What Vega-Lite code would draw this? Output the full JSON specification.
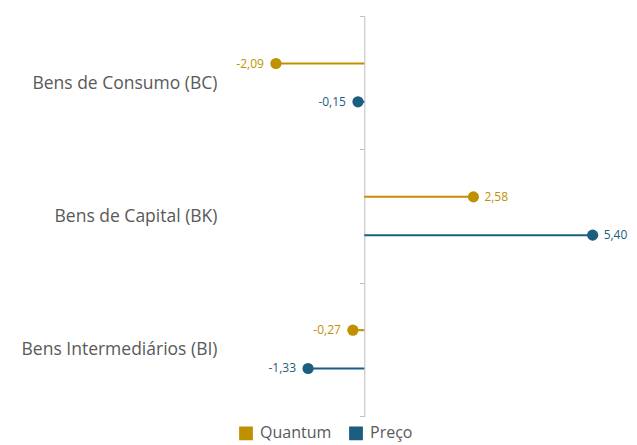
{
  "$schema": "https://vega.github.io/schema/vega-lite/v6.json",
  "autosize": "none",
  "padding": {"left": 229, "top": 16, "right": 19, "bottom": 29},
  "width": 389,
  "height": 400,
  "config": {
    "view": {"stroke": null},
    "font": "Open Sans",
    "locale": {"number": {"decimal": ",", "thousands": ".", "grouping": [3], "currency": ["R$", ""], "minus": "-"}}
  },
  "data": {
    "values": [
      {"categoria": "Bens de Consumo (BC)", "serie": "Quantum", "valor": -2.09},
      {"categoria": "Bens de Consumo (BC)", "serie": "Preço", "valor": -0.15},
      {"categoria": "Bens de Capital (BK)", "serie": "Quantum", "valor": 2.58},
      {"categoria": "Bens de Capital (BK)", "serie": "Preço", "valor": 5.40},
      {"categoria": "Bens Intermediários (BI)", "serie": "Quantum", "valor": -0.27},
      {"categoria": "Bens Intermediários (BI)", "serie": "Preço", "valor": -1.33}
    ]
  },
  "encoding": {
    "y": {
      "field": "categoria",
      "type": "nominal",
      "sort": ["Bens de Consumo (BC)", "Bens de Capital (BK)", "Bens Intermediários (BI)"],
      "scale": {"paddingInner": 0, "paddingOuter": 0}
    },
    "yOffset": {
      "field": "serie",
      "type": "nominal",
      "sort": ["Quantum", "Preço"],
      "scale": {"paddingInner": 0, "paddingOuter": 0.74}
    },
    "x": {
      "field": "valor",
      "type": "quantitative",
      "scale": {"domain": [-3.2, 6.0], "nice": false, "zero": false},
      "axis": null
    }
  },
  "layer": [
    {
      "mark": {"type": "rule", "strokeWidth": 2},
      "encoding": {
        "x2": {"datum": 0},
        "y": {
          "field": "categoria",
          "type": "nominal",
          "sort": ["Bens de Consumo (BC)", "Bens de Capital (BK)", "Bens Intermediários (BI)"],
          "axis": {
            "orient": "left",
            "title": null,
            "domain": false,
            "ticks": false,
            "labelPadding": 12,
            "labelFontSize": 17.5,
            "labelColor": "#595959",
            "labelLimit": 300,
            "labelOffset": 1
          }
        },
        "color": {
          "field": "serie",
          "type": "nominal",
          "sort": ["Quantum", "Preço"],
          "scale": {"domain": ["Quantum", "Preço"], "range": ["#BF9000", "#1B5E80"]}
        }
      }
    },
    {
      "mark": {"type": "point", "filled": true, "opacity": 1, "size": 125},
      "encoding": {
        "y": {
          "field": "categoria",
          "type": "nominal",
          "sort": ["Bens de Consumo (BC)", "Bens de Capital (BK)", "Bens Intermediários (BI)"],
          "axis": {
            "orient": "left",
            "title": null,
            "labels": false,
            "offset": -135.3,
            "domain": true,
            "domainColor": "#BFBFBF",
            "ticks": true,
            "tickBand": "extent",
            "tickSize": 5,
            "tickColor": "#BFBFBF",
            "grid": false
          }
        },
        "color": {
          "field": "serie",
          "type": "nominal",
          "sort": ["Quantum", "Preço"],
          "scale": {"domain": ["Quantum", "Preço"], "range": ["#BF9000", "#1B5E80"]},
          "legend": {
            "orient": "none",
            "legendX": 9,
            "legendY": 409,
            "direction": "horizontal",
            "title": null,
            "symbolType": "square",
            "symbolSize": 150,
            "labelFontSize": 16,
            "labelColor": "#595959",
            "columnPadding": 14,
            "labelOffset": 6
          }
        }
      }
    },
    {
      "transform": [{"filter": "datum.valor < 0"}],
      "mark": {"type": "text", "align": "right", "baseline": "middle", "dx": -12, "fontSize": 12},
      "encoding": {
        "y": {"field": "categoria", "type": "nominal", "sort": ["Bens de Consumo (BC)", "Bens de Capital (BK)", "Bens Intermediários (BI)"], "axis": null},
        "text": {"field": "valor", "type": "quantitative", "format": ".2f"},
        "color": {"field": "serie", "type": "nominal", "sort": ["Quantum", "Preço"], "scale": {"domain": ["Quantum", "Preço"], "range": ["#BF9000", "#1B5E80"]}}
      }
    },
    {
      "transform": [{"filter": "datum.valor >= 0"}],
      "mark": {"type": "text", "align": "left", "baseline": "middle", "dx": 11, "fontSize": 12},
      "encoding": {
        "y": {"field": "categoria", "type": "nominal", "sort": ["Bens de Consumo (BC)", "Bens de Capital (BK)", "Bens Intermediários (BI)"], "axis": null},
        "text": {"field": "valor", "type": "quantitative", "format": ".2f"},
        "color": {"field": "serie", "type": "nominal", "sort": ["Quantum", "Preço"], "scale": {"domain": ["Quantum", "Preço"], "range": ["#BF9000", "#1B5E80"]}}
      }
    }
  ],
  "resolve": {"axis": {"y": "independent"}}
}
